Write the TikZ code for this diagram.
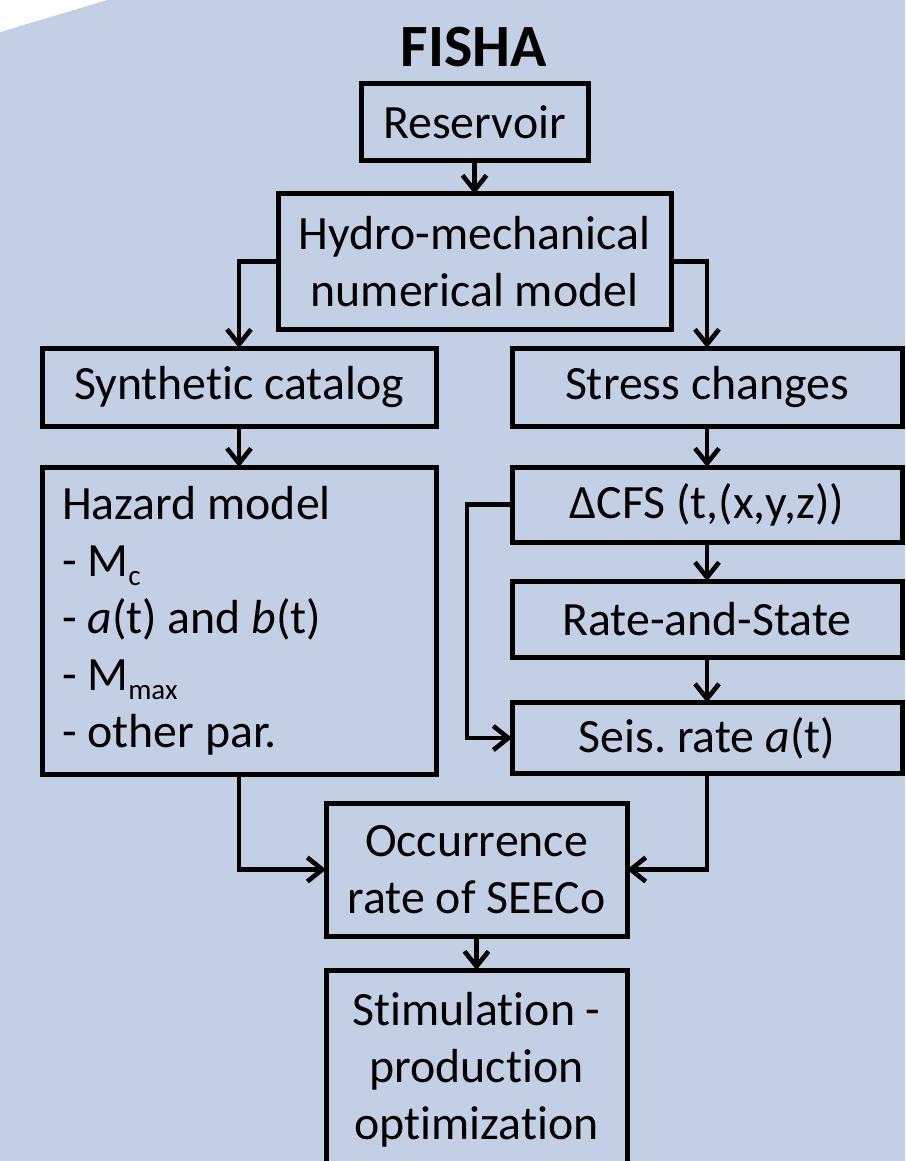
\documentclass[tikz,border=0pt]{standalone}
\usepackage{fontspec}
\setmainfont{Carlito}[Ligatures={NoCommon}]
\usetikzlibrary{arrows.meta}
\definecolor{bgblue}{HTML}{C3CFE5}
\newcommand\lowsub[1]{\raisebox{-9pt}{\fontsize{29}{29}\selectfont #1}}
\frenchspacing
\begin{document}
\begin{tikzpicture}[x=1pt,y=-1pt,
  box/.style={draw=black, line width=5pt, inner sep=0pt, outer sep=0pt, align=center, font=\fontsize{47.8}{57}\selectfont},
  arr/.style={line width=4.6pt, -{Straight Barb[length=15pt,width=24pt]}},
  ]
\useasboundingbox (0,0) rectangle (905,1161);
\clip (0,0) rectangle (905,1161);
\fill[bgblue] (0,0) rectangle (905,1161);
\fill[white] (0,0) -- (107,0) -- (0,32) -- cycle;

\node[font=\bfseries\fontsize{60}{60}\selectfont, anchor=base] (title) at (474,67) {FISHA};

\node[box, minimum width=227pt, minimum height=77pt] (res) at (474.5,122.5) {Reservoir};
\node[box, minimum width=393pt, minimum height=135pt] (hyd) at (474.5,261.5) {Hydro-mechanical\\numerical model};
\node[box, minimum width=394pt, minimum height=78pt] (syn) at (239,387) {Synthetic catalog};
\node[box, minimum width=390pt, minimum height=78pt] (str) at (707,387) {Stress changes};
\node[box, minimum width=394pt, minimum height=307pt, text width=354pt, align=flush left] (haz) at (239,620.5)
  {Hazard model\\- M\lowsub{c}\\- \textit{a}(t) and \textit{b}(t)\\- M\lowsub{max}\\- other par.};
\node[box, minimum width=390pt, minimum height=75pt] (cfs) at (707,504.5) {ΔCFS (t,(x,y,z))};
\node[box, minimum width=390pt, minimum height=76pt] (rs) at (707,619) {Rate-and-State};
\node[box, minimum width=390pt, minimum height=71pt] (seis) at (707,738) {Seis. rate \textit{a}(t)};
\node[box, minimum width=301pt, minimum height=133pt] (occ) at (476.5,869.5) {Occurrence\\rate of SEECo};
\node[box, minimum width=301pt, minimum height=200pt] (sti) at (476.5,1070) {Stimulation -\\production\\optimization};

\draw[arr] (res.south) -- (hyd.north);
\draw[arr] (hyd.west) -| (syn.north);
\draw[arr] (hyd.east) -| (str.north);
\draw[arr] (syn.south) -- (haz.north);
\draw[arr] (str.south) -- (cfs.north);
\draw[arr] (cfs.south) -- (rs.north);
\draw[arr] (rs.south) -- (seis.north);
\draw[arr] (cfs.west) -- ++(-45,0) |- (seis.west);
\draw[arr] (haz.south) |- (occ.west);
\draw[arr] (seis.south) |- (occ.east);
\draw[arr] (occ.south) -- (sti.north);
\end{tikzpicture}
\end{document}
